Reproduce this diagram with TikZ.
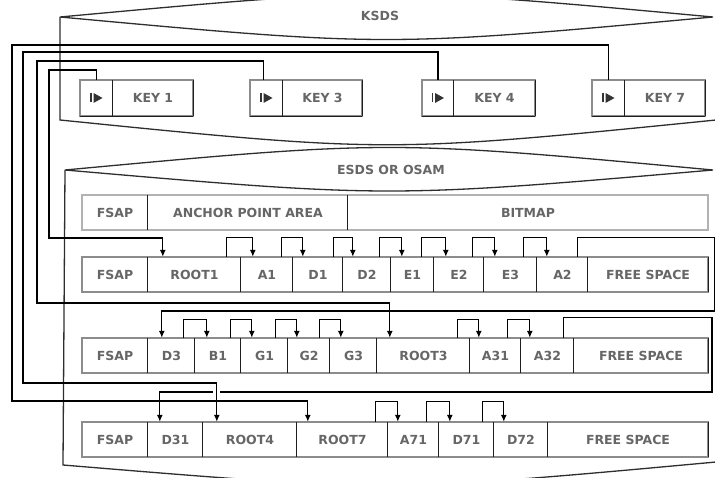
\documentclass[tikz,border=0pt]{standalone}
\usepackage{fontspec}
\setmainfont{DejaVu Sans}
\usetikzlibrary{arrows.meta,calc}
\newcommand\mkcell[6]{\node[cell, minimum width={(#3-#2)*1pt}, minimum height={(#5-#4)*1pt}] (#1) at ({(#2+#3)/2},{(#4+#5)/2}) {#6};}
\newcommand\chainarr[5]{\draw[arr] ([xshift=-#3pt]#1.north east) -- ++(0,-#5) -| ([xshift=#4pt]#2.north west);}
\newcommand\ptrglyph[1]{%
  \fill[black!80] ($(#1.center)+(-3,-5)$) -- ($(#1.center)+(6,0)$) -- ($(#1.center)+(-3,5)$) -- cycle;
  \draw[black!80,line width=1.5pt] ($(#1.center)+(-5.5,-4.5)$) -- ($(#1.center)+(-5.5,4.5)$);}
\begin{document}
\begin{tikzpicture}[x=1pt,y=-1pt,
  cell/.style={inner sep=0pt, font=\fontsize{12.5}{12.5}\selectfont\bfseries, text=black!60},
  lbl/.style={inner sep=0pt, font=\fontsize{12.5}{12.5}\selectfont\bfseries, text=black!60},
  frame/.style={draw=black!45, line width=1.5pt},
  divider/.style={draw=black!88, line width=1.3pt},
  arr/.style={draw=black, line width=1.3pt, -{Latex[length=7pt,width=6pt]}},
  conn/.style={draw=black, line width=1.3pt},
  cyl/.style={draw=black!82, line width=1.3pt},
]
\useasboundingbox (0,0) rectangle (715,478);

% ---------- cylinders ----------
\draw[cyl] (60,17) .. controls (386.5,-13) .. (713,17) .. controls (386.5,47) .. (60,17) -- cycle;
\draw[cyl] (60,17) -- (60,120) .. controls (387,153) .. (716,120);
\node[lbl] (ksds) at (380,16) {KSDS};

\draw[cyl] (65,170) .. controls (389,140) .. (713,170) .. controls (389,198) .. (65,170) -- cycle;
\draw[cyl] (65,170) -- (63,465) .. controls (389,492) .. (716,462);
\node[lbl] (esds) at (391,170) {ESDS OR OSAM};

% ---------- keys ----------
\mkcell{k1p}{80}{113}{80}{116}{}
\mkcell{k1}{113}{193}{80}{116}{KEY 1}
\mkcell{k3p}{250}{283}{80}{116}{}
\mkcell{k3}{283}{362}{80}{116}{KEY 3}
\mkcell{k4p}{422}{454}{80}{116}{}
\mkcell{k4}{454}{535}{80}{116}{KEY 4}
\mkcell{k7p}{592}{625}{80}{116}{}
\mkcell{k7}{625}{705}{80}{116}{KEY 7}
\foreach \p/\k in {k1p/k1,k3p/k3,k4p/k4,k7p/k7}{
  \draw[frame] (\p.north west) rectangle (\k.south east);
  \draw[divider] (\k.north west) -- (\k.south west);
  \draw[divider] (\k.north east) -- (\k.south east);
  \draw[divider] (\p.south west) -- (\k.south east);
}
\ptrglyph{k1p}\ptrglyph{k3p}\ptrglyph{k4p}\ptrglyph{k7p}

% ---------- header row ----------
\mkcell{hfsap}{82}{148}{195}{230}{FSAP}
\mkcell{hanchor}{148}{348}{195}{230}{ANCHOR POINT AREA}
\mkcell{hbitmap}{348}{708}{195}{230}{BITMAP}
\draw[draw=black!30, line width=1.5pt] (hfsap.north west) rectangle (hbitmap.south east);
\foreach \n in {hanchor,hbitmap} \draw[divider] (\n.north west) -- (\n.south west);

% ---------- row 1 ----------
\mkcell{r1fsap}{82}{148}{257}{292}{FSAP}
\mkcell{root1}{148}{241}{257}{292}{ROOT1}
\mkcell{a1}{241}{293}{257}{292}{A1}
\mkcell{d1}{293}{343}{257}{292}{D1}
\mkcell{d2}{343}{391}{257}{292}{D2}
\mkcell{e1}{391}{434}{257}{292}{E1}
\mkcell{e2}{434}{484}{257}{292}{E2}
\mkcell{e3}{484}{537}{257}{292}{E3}
\mkcell{a2}{537}{588}{257}{292}{A2}
\mkcell{r1free}{588}{708}{257}{292}{FREE SPACE}
\draw[frame] (r1fsap.north west) rectangle (r1free.south east);
\foreach \n in {root1,a1,d1,d2,e1,e2,e3,a2,r1free} \draw[divider] (\n.north west) -- (\n.south west);
\draw[divider] (r1free.north east) -- (r1free.south east);

% ---------- row 2 ----------
\mkcell{r2fsap}{82}{148}{338}{373}{FSAP}
\mkcell{d3}{148}{195}{338}{373}{D3}
\mkcell{b1}{195}{241}{338}{373}{B1}
\mkcell{g1}{241}{288}{338}{373}{G1}
\mkcell{g2}{288}{330}{338}{373}{G2}
\mkcell{g3}{330}{377}{338}{373}{G3}
\mkcell{root3}{377}{470}{338}{373}{ROOT3}
\mkcell{a31}{470}{521}{338}{373}{A31}
\mkcell{a32}{521}{574}{338}{373}{A32}
\mkcell{r2free}{574}{708}{338}{373}{FREE SPACE}
\draw[frame] (r2fsap.north west) rectangle (r2free.south east);
\foreach \n in {d3,b1,g1,g2,g3,root3,a31,a32,r2free} \draw[divider] (\n.north west) -- (\n.south west);
\draw[divider] (r2free.north east) -- (r2free.south east);

% ---------- row 3 ----------
\mkcell{r3fsap}{82}{148}{422}{457}{FSAP}
\mkcell{d31}{148}{203}{422}{457}{D31}
\mkcell{root4}{203}{297}{422}{457}{ROOT4}
\mkcell{root7}{297}{388}{422}{457}{ROOT7}
\mkcell{a71}{388}{439}{422}{457}{A71}
\mkcell{d71}{439}{494}{422}{457}{D71}
\mkcell{d72}{494}{548}{422}{457}{D72}
\mkcell{r3free}{548}{708}{422}{457}{FREE SPACE}
\draw[frame] (r3fsap.north west) rectangle (r3free.south east);
\foreach \n in {d31,root4,root7,a71,d71,d72,r3free} \draw[divider] (\n.north west) -- (\n.south west);
\draw[divider] (r3free.north east) -- (r3free.south east);

% ---------- chain pointers ----------
\chainarr{root1}{a1}{15}{12}{19}
\chainarr{a1}{d1}{12}{10}{19}
\chainarr{d1}{d2}{10}{10}{19}
\chainarr{d2}{e1}{12}{11}{19}
\chainarr{e1}{e2}{13}{12}{19}
\chainarr{e2}{e3}{12}{11}{19}
\chainarr{e3}{a2}{14}{10}{19}

\chainarr{d3}{b1}{12}{12}{18}
\chainarr{b1}{g1}{11}{11}{18}
\chainarr{g1}{g2}{13}{9}{18}
\chainarr{g2}{g3}{11}{11}{18}
\chainarr{root3}{a31}{13}{9}{18}
\chainarr{a31}{a32}{14}{9}{18}

\chainarr{root7}{a71}{13}{10}{20}
\chainarr{a71}{d71}{13}{11}{20}
\chainarr{d71}{d72}{12}{10}{20}

% block-to-block pointers along the right edge
\coordinate (eB) at (714.5,311);
\coordinate (eC) at (712,392);
\draw[arr] ([xshift=-11pt]a2.north east) -- ++(0,-19) -| (eB) -| ([xshift=14pt]d3.north west);
\draw[arr] ([xshift=-11pt]a32.north east) -- ++(0,-20) -| (eC) -| ([xshift=12pt]d31.north west);

% ---------- key pointers ----------
\coordinate (l1) at (49,70);  \coordinate (l1b) at (49,238);
\coordinate (l3) at (37,61);  \coordinate (l3b) at (37,303);
\coordinate (l4) at (23,52);  \coordinate (l4b) at (23,383);
\coordinate (l7) at (12,45);  \coordinate (l7b) at (12,401);
\draw[arr] (k7p.north) |- (l7) -- (l7b) -| ([xshift=11pt]root7.north west);
\draw[arr] ([xshift=-3pt]k3p.north) |- (l3) -- (l3b) -| ([xshift=13pt]root3.north west);
\draw[white, line width=7pt] ($(root4.north west)+(14,-35)$) -- ($(root4.north west)+(14,-27)$);
\draw[arr] (k4p.north) |- (l4) -- (l4b) -| ([xshift=14pt]root4.north west);
\draw[arr] (k1p.north) |- (l1) -- (l1b) -| ([xshift=15pt]root1.north west);
\end{tikzpicture}
\end{document}
